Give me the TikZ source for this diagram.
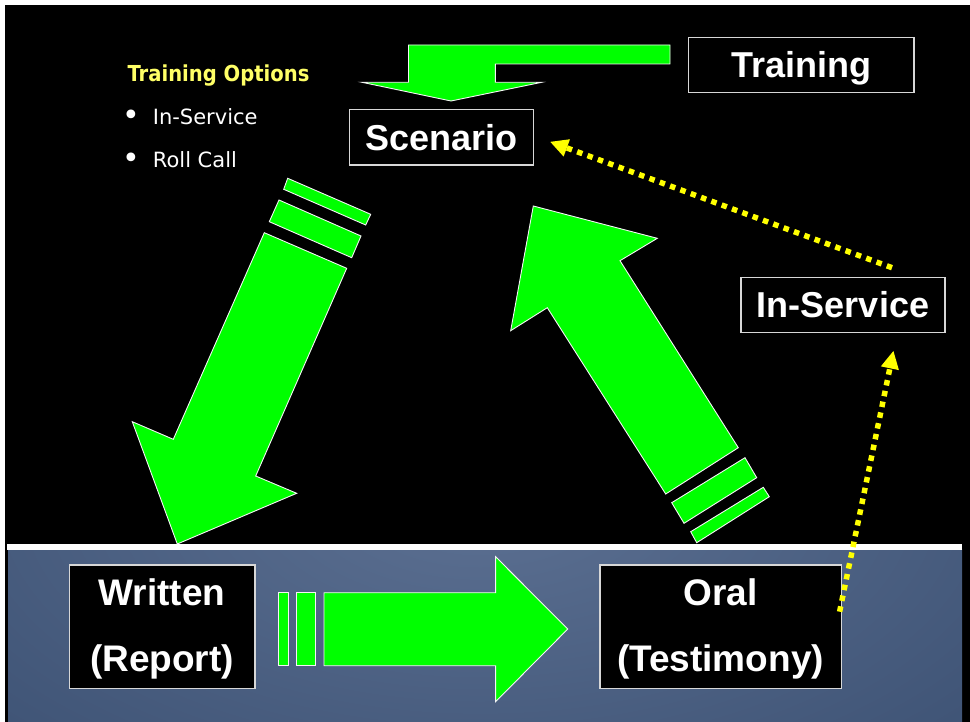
\documentclass[tikz,border=0pt]{standalone}
\usepackage{fontspec}
\usepackage{graphicx}
\setmainfont{Liberation Sans}
\newfontfamily\optfont{DejaVu Sans}
\usetikzlibrary{arrows.meta,calc}

\definecolor{arrowgreen}{RGB}{0,255,0}
\definecolor{dotyellow}{RGB}{255,255,0}
\definecolor{optyellow}{RGB}{255,255,102}
\definecolor{panelhi}{RGB}{92,112,146}
\definecolor{panelmid}{RGB}{58,79,113}
\definecolor{panello}{RGB}{22,38,68}
\definecolor{boxline}{RGB}{215,215,215}

% soft glow of the lower panel
\pgfdeclareradialshading{panelglow}{\pgfpoint{0bp}{0bp}}{%
  color(0bp)=(panelhi); color(30bp)=(panelmid); color(50bp)=(panello)}

\begin{document}
\begin{tikzpicture}[x=1pt,y=-1pt,
  box/.style={draw=boxline, line width=1.2pt, fill=black, inner sep=0pt},
  boxlabel/.style={text=white, inner sep=0pt, font=\fontsize{36}{40}\selectfont\bfseries},
  bigline/.style={text=white, inner sep=0pt, anchor=base, font=\fontsize{37}{40}\selectfont\bfseries},
  greenarrow/.style={fill=arrowgreen, draw=white!92!gray, line width=0.9pt, line join=miter},
  dotlink/.style={draw=dotyellow, line width=5.5pt, line cap=butt,
    dash pattern=on 5.5pt off 5.5pt,
    -{Triangle[length=18pt,width=17pt,fill=dotyellow]}},
  opttext/.style={text=white, inner sep=0pt, anchor=base west,
    font=\optfont\fontsize{21}{25}\selectfont},
  bulletmark/.style={text=white, inner sep=0pt, anchor=center,
    font=\optfont\fontsize{30}{30}\selectfont}
]
\useasboundingbox (0,0) rectangle (970,722);

% page frame
\fill[white] (0,0) rectangle (970,722);
\fill[black] (5,5) rectangle (970,722);

% lower panel with its white rule
\begin{scope}
  \clip (8,549) rectangle (962,722);
  \fill[panello] (8,549) rectangle (962,722);
  \shade[shading=panelglow] (480,500) ellipse (645 and 335);
\end{scope}
\fill[white] (7,544) rectangle (962,549.5);

% training options list
\node[anchor=base west, inner sep=0pt, text=optyellow] (opthead) at (127.3,81.7)
  {\optfont\bfseries\fontsize{22}{26}\selectfont\scalebox{0.89}[1]{Training Options}};
\node[bulletmark] (bul1) at (131.7,118) {\textbullet};
\node[opttext] (opt1) at (152.7,125) {In-Service};
\node[bulletmark] (bul2) at (131.7,160.3) {\textbullet};
\node[opttext] (opt2) at (152.7,167.3) {Roll Call};

% boxes
\node[box, boxlabel, minimum width=225.5pt, minimum height=55.4pt,
  text height=26pt, text depth=0pt] (training) at (801.2,65) {Training};
\node[box, boxlabel, minimum width=184pt, minimum height=55.7pt,
  text height=26pt, text depth=0pt] (scenario) at (441.3,137.2) {Scenario};
\node[box, boxlabel, minimum width=204pt, minimum height=55.4pt,
  text height=26pt, text depth=0pt] (insvc) at (843,305) {In-Service};
\node[box, minimum width=185.3pt, minimum height=123.3pt] (written) at (162.3,626.7) {};
\node[bigline] (written1) at (162,605) {Written};
\node[bigline] (written2) at (162,671.7) {(Report)};
\node[box, minimum width=241.4pt, minimum height=123.3pt] (oral) at (720.7,626.7) {};
\node[bigline] (oral1) at (720.5,605) {Oral};
\node[bigline] (oral2) at (720.5,671.7) {(Testimony)};

% bent arrow from Training down onto Scenario
\draw[greenarrow] (670,45) -- (408.5,45) -- (408.5,82.3) -- (362,82.3) -- (451,101)
  -- (541.7,82.3) -- (495.3,82.3) -- (495.3,64) -- (670,64) -- cycle;

% Scenario to Written
\draw[greenarrow] (287.7,178.3) -- (370.7,214.3) -- (365.7,225) -- (283.7,189.3) -- cycle;
\draw[greenarrow] (279,200) -- (361,236) -- (351.7,257.7) -- (269.3,221.7) -- cycle;
\draw[greenarrow] (264.3,232.7) -- (346.7,268.3) -- (255.7,476) -- (296.7,493.3)
  -- (177.3,544) -- (132.3,421.7) -- (173.3,439.3) -- cycle;

% Written to Oral
\draw[greenarrow] (278,592.7) rectangle (288,665.7);
\draw[greenarrow] (296,592.7) rectangle (315.3,665.7);
\draw[greenarrow] (324,592.7) -- (495.6,592.7) -- (495.6,556.7) -- (567.8,629)
  -- (495.6,701.7) -- (495.6,665.7) -- (324,665.7) -- cycle;

% Oral back up to Scenario
\draw[greenarrow] (690.7,531.7) -- (763.3,487.3) -- (769.3,496.7) -- (696.7,542.7) -- cycle;
\draw[greenarrow] (671.7,502.7) -- (745,457.7) -- (756.7,477.7) -- (684,523.3) -- cycle;
\draw[greenarrow] (533.3,206) -- (657.3,238.3) -- (620,260.7) -- (738.3,447.7)
  -- (665.7,494) -- (547.3,307.7) -- (510.7,330.7) -- cycle;

% dotted feedback links
\coordinate (d1s) at ($(insvc.north)+(49,-9)$);
\coordinate (d1e) at ($(scenario.east)+(16,4.5)$);
\coordinate (d2s) at ($(oral.east)+(-2.4,-15)$);
\coordinate (d2e) at ($(insvc.south)+(50.5,17.3)$);
\draw[dotlink] (d1s) -- (d1e);
\draw[dotlink] (d2s) -- (d2e);
\end{tikzpicture}
\end{document}
